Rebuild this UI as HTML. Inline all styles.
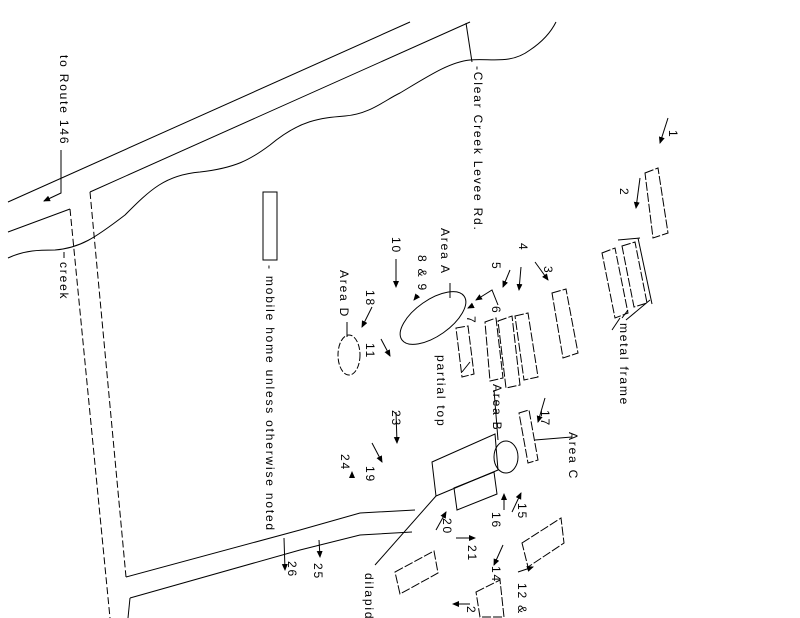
<!DOCTYPE html>
<html><head><meta charset="utf-8"><style>
html,body{margin:0;padding:0;background:#fff;width:800px;height:618px;overflow:hidden;}
svg{display:block;overflow:hidden;}
text{font-family:"Liberation Sans","DejaVu Sans",sans-serif;font-size:12px;fill:#000;letter-spacing:1.8px;}
</style></head><body>
<svg width="800" height="618" viewBox="0 0 800 618" xmlns="http://www.w3.org/2000/svg">
<defs>
<marker id="a" markerWidth="8" markerHeight="8" refX="6" refY="3" orient="auto" markerUnits="userSpaceOnUse"><path d="M0,0 L7,3 L0,6 z" fill="#000"/></marker>
</defs>
<g fill="none" stroke="#000" stroke-width="1">
<path d="M8,202 L410,22"/>
<path d="M8,232 L70,209"/>
<path d="M90,192 L470,22"/>
<path d="M8,258 C25,250 40,250 55,250 C80,248 95,238 125,215 C150,190 165,175 200,172 C235,168 250,160 270,145 C300,120 320,118 345,116 C370,114 385,100 400,93 C430,75 450,62 470,60 C490,58 510,65 530,50 C545,40 552,30 556,22"/>
<path d="M466,23 L472,62"/>
<path d="M70,209 L110,618" stroke-dasharray="7,3"/>
<path d="M90,192 L126,577" stroke-dasharray="7,3"/>
<path d="M126,577 L300,530 L360,513 L415,510"/>
<path d="M130,598 L300,550 L360,535 L412,532"/>
<path d="M130,598 L128,618"/>
<path d="M61,150 L61,193 L44,201" marker-end="url(#a)"/>
<path d="M64,252 L64,258"/>
<rect x="263" y="192" width="14" height="68"/>
<ellipse cx="433" cy="318" rx="38" ry="18" transform="rotate(-35 433 318)"/>
<ellipse cx="349" cy="355" rx="11" ry="20" stroke-dasharray="6,2"/>
<ellipse cx="506" cy="457" rx="12" ry="16"/>
<path d="M450,283 L450,298"/>
<path d="M347,322 L347,337"/>
<g stroke-dasharray="9,2">
<polygon points="645,173 658,168 668,233 653,238"/>
<polygon points="602,253 615,248 628,313 615,318"/>
<polygon points="622,246 635,242 647,303 634,307"/>
<polygon points="552,293 566,289 578,353 563,358"/>
<polygon points="485,322 496,318 503,378 490,381"/>
<polygon points="498,321 512,316 520,385 506,388"/>
<polygon points="515,316 528,313 538,377 524,380"/>
<polygon points="456,328 468,326 474,374 462,377"/>
<polygon points="519,413 529,410 538,460 528,463"/>
<polygon points="395,572 434,551 438,573 400,594"/>
<polygon points="522,543 561,518 564,543 528,567"/>
<polygon points="476,592 500,580 504,617 480,617"/>
</g>
<polygon points="432,462 495,434 498,470 436,496"/>
<polygon points="454,488 494,472 497,494 457,510"/>
<path d="M618,240 L640,238 M626,320 L650,300 M638,238 L652,304 M620,318 L612,330"/>
<path d="M628,310 L622,318"/>
<path d="M462,372 L470,362"/>
<path d="M494,390 L498,440"/>
<path d="M535,440 L572,437"/>
<path d="M436,496 L375,565"/>
<path d="M498,305 L492,290 L476,300" marker-end="url(#a)"/>
<path d="M668,118 L660,143" marker-end="url(#a)"/>
<path d="M640,178 L636,208" marker-end="url(#a)"/>
<path d="M535,262 L548,280" marker-end="url(#a)"/>
<path d="M521,267 L519,290" marker-end="url(#a)"/>
<path d="M510,270 L503,287" marker-end="url(#a)"/>
<path d="M472,306 L468,308" marker-end="url(#a)"/>
<path d="M396,259 L396,287" marker-end="url(#a)"/>
<path d="M418,295 L414,300" marker-end="url(#a)"/>
<path d="M372,307 L362,327" marker-end="url(#a)"/>
<path d="M381,339 L390,356" marker-end="url(#a)"/>
<path d="M396,412 L397,443" marker-end="url(#a)"/>
<path d="M372,443 L382,462" marker-end="url(#a)"/>
<path d="M352,478 L352,472" marker-end="url(#a)"/>
<path d="M545,398 L538,422" marker-end="url(#a)"/>
<path d="M504,510 L504,494" marker-end="url(#a)"/>
<path d="M512,512 L521,493" marker-end="url(#a)"/>
<path d="M436,530 L446,512" marker-end="url(#a)"/>
<path d="M456,538 L475,538" marker-end="url(#a)"/>
<path d="M503,545 L494,565" marker-end="url(#a)"/>
<path d="M518,572 L533,567" marker-end="url(#a)"/>
<path d="M470,604 L453,604" marker-end="url(#a)"/>
<path d="M319,540 L320,557" marker-end="url(#a)"/>
<path d="M284,538 L285,570" marker-end="url(#a)"/>
</g>
<g>
<text transform="translate(60,55) rotate(90)">to Route 146</text>
<text transform="translate(60,262) rotate(90)">creek</text>
<text transform="translate(474,66) rotate(90)">-Clear Creek Levee Rd.</text>
<text transform="translate(266,265) rotate(90)">- mobile home unless otherwise noted</text>
<text transform="translate(669,130) rotate(90)">1</text>
<text transform="translate(620,188) rotate(90)">2</text>
<text transform="translate(544,266) rotate(90)">3</text>
<text transform="translate(519,243) rotate(90)">4</text>
<text transform="translate(492,262) rotate(90)">5</text>
<text transform="translate(492,306) rotate(90)">6</text>
<text transform="translate(467,316) rotate(90)">7</text>
<text transform="translate(418,255) rotate(90)">8 &amp; 9</text>
<text transform="translate(392,237) rotate(90)">10</text>
<text transform="translate(366,290) rotate(90)">18</text>
<text transform="translate(366,343) rotate(90)">11</text>
<text transform="translate(441,228) rotate(90)">Area A</text>
<text transform="translate(340,270) rotate(90)">Area D</text>
<text transform="translate(437,355) rotate(90)">partial top</text>
<text transform="translate(493,384) rotate(90)">Area B</text>
<text transform="translate(541,410) rotate(90)">17</text>
<text transform="translate(569,432) rotate(90)">Area C</text>
<text transform="translate(392,410) rotate(90)">23</text>
<text transform="translate(366,466) rotate(90)">19</text>
<text transform="translate(341,454) rotate(90)">24</text>
<text transform="translate(492,512) rotate(90)">16</text>
<text transform="translate(518,503) rotate(90)">15</text>
<text transform="translate(443,518) rotate(90)">20</text>
<text transform="translate(468,545) rotate(90)">21</text>
<text transform="translate(492,566) rotate(90)">14</text>
<text transform="translate(314,563) rotate(90)">25</text>
<text transform="translate(288,561) rotate(90)">26</text>
<text transform="translate(365,573) rotate(90)">dilapid</text>
<text transform="translate(467,606) rotate(90)">2</text>
<text transform="translate(518,583) rotate(90)">12 &amp;</text>
<text transform="translate(620,323) rotate(90)">metal frame</text>
</g>
</svg>
</body></html>
